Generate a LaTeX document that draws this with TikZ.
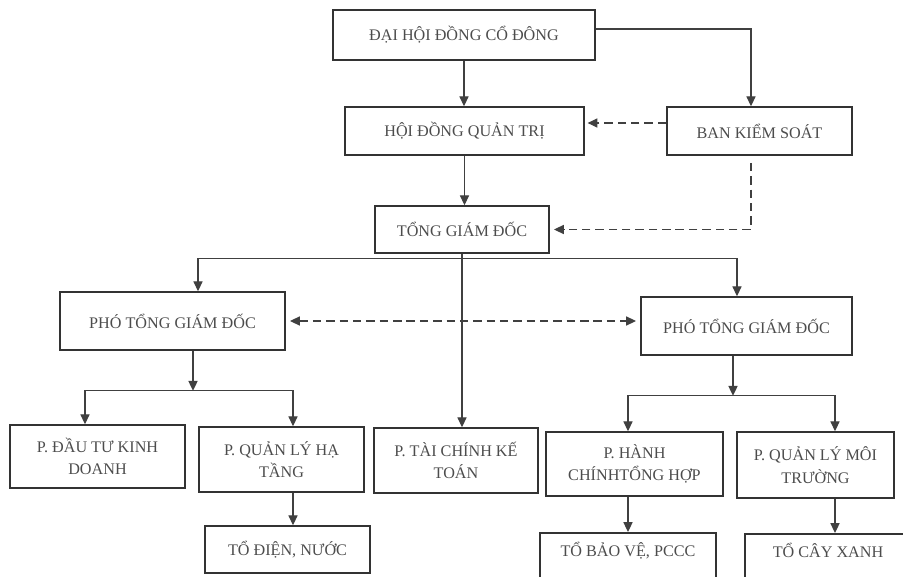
\documentclass[tikz,border=0pt]{standalone}
\usepackage{fontspec}
\setmainfont{Liberation Serif}
\usetikzlibrary{positioning, arrows.meta}

\begin{document}
\begin{tikzpicture}[
    x=0.025cm, y=-0.025cm,
    box/.style={rectangle, draw=black!80, line width=1.1pt, align=center, text=black!70, font=\fontsize{11.5}{16}\selectfont, inner sep=2pt},
    cutbox/.style={box, text height=15pt, text depth=32pt, anchor=north},
    link/.style={draw=black!75, line width=0.85pt},
    arr/.style={link, -{Triangle[length=7pt,width=6.5pt]}},
    dasharr/.style={arr, dash pattern=on 6pt off 3.5pt}
]

% frame of the page
\useasboundingbox (0,0) rectangle (903,577);
\clip (0,0) rectangle (903,577);

% Top levels
\node[box, minimum width=6.55cm, minimum height=1.25cm] (dhdcd) at (464,35) {ĐẠI HỘI ĐỒNG CỔ ĐÔNG};
\node[box, minimum width=5.975cm, minimum height=1.2cm] (hdqt) at (464.5,131) {HỘI ĐỒNG QUẢN TRỊ};
\node[box, minimum width=4.625cm, minimum height=1.2cm] (bks) at (759.5,131) {BAN KIỂM SOÁT};
\node[box, minimum width=4.35cm, minimum height=1.175cm] (tgd) at (462,229.5) {TỔNG GIÁM ĐỐC};

% Deputies
\node[box, minimum width=5.625cm, minimum height=1.45cm] (ptgd1) at (172.5,321) {PHÓ TỔNG GIÁM ĐỐC};
\node[box, minimum width=5.275cm, minimum height=1.45cm] (ptgd2) at (746.5,326) {PHÓ TỔNG GIÁM ĐỐC};

% Departments
\node[box, minimum width=4.375cm, minimum height=1.575cm] (pdt) at (97.5,456.5) {P. ĐẦU TƯ KINH\\DOANH};
\node[box, minimum width=4.125cm, minimum height=1.625cm] (pqlht) at (281.5,459.5) {P. QUẢN LÝ HẠ\\TẦNG};
\node[box, minimum width=4.1cm, minimum height=1.625cm] (ptckt) at (456,460.5) {P. TÀI CHÍNH KẾ\\TOÁN};
\node[box, minimum width=4.425cm, minimum height=1.6cm] (phc) at (634.5,464) {P. HÀNH\\CHÍNHTỔNG HỢP};
\node[box, minimum width=3.925cm, minimum height=1.65cm] (pqlmt) at (815.5,465) {P. QUẢN LÝ MÔI\\TRƯỜNG};

% Teams
\node[box, minimum width=4.125cm, minimum height=1.175cm] (todn) at (287.5,549.5) {TỔ ĐIỆN, NƯỚC};
\node[cutbox, minimum width=4.4cm] (tobv) at (628,532) {TỔ BẢO VỆ, PCCC};
\node[cutbox, minimum width=4.15cm] (tocx) at (828,533) {TỔ CÂY XANH};

% Connectors, top part
\draw[arr] (dhdcd.south) -- (dhdcd.south |- hdqt.north);
\draw[arr] ([yshift=0.15cm]dhdcd.east) -| ([xshift=-0.2125cm]bks.north);
\draw[dasharr, shorten >=2pt] ([yshift=0.2cm]bks.west) -- ([yshift=0.2cm]bks.west -| hdqt.east);
\draw[arr] (hdqt.south) -- (hdqt.south |- tgd.north);
\draw[dasharr, shorten >=3pt] ([xshift=-0.2125cm, yshift=-0.18cm]bks.south) |- (tgd.east);

% Connectors from the director
\coordinate (split) at ([yshift=-0.11cm]tgd.south);
\draw[link] (tgd.south) -- (split);
\draw[arr] (split) -| ([xshift=0.6375cm]ptgd1.north);
\draw[arr] (split) -| ([xshift=-0.2375cm]ptgd2.north);
\draw[arr] (tgd.south) -- (tgd.south |- ptckt.north);
\draw[dasharr, {Triangle[length=7pt,width=6.5pt]}-{Triangle[length=7pt,width=6.5pt]}, shorten <=3pt, shorten >=3pt] (ptgd1.east) -- (ptgd1.east -| ptgd2.west);

% Left deputy
\coordinate (split1) at ([xshift=0.5125cm, yshift=-1cm]ptgd1.south);
\draw[arr] ([xshift=0.5125cm]ptgd1.south) -- (split1);
\draw[arr] (split1) -| ([xshift=-0.3125cm]pdt.north);
\draw[arr] (split1) -| ([xshift=0.2875cm]pqlht.north);
\draw[arr] ([xshift=0.2875cm]pqlht.south) -- ([xshift=0.2875cm]pqlht.south |- todn.north);

% Right deputy
\coordinate (split2) at ([xshift=-0.3375cm, yshift=-1cm]ptgd2.south);
\draw[arr] ([xshift=-0.3375cm]ptgd2.south) -- (split2);
\draw[arr] (split2) -| ([xshift=-0.1625cm]phc.north);
\draw[arr] (split2) -| ([xshift=0.4875cm]pqlmt.north);
\draw[arr] ([xshift=-0.1625cm]phc.south) -- ([xshift=-0.1625cm]phc.south |- tobv.north);
\draw[arr] ([xshift=0.4875cm]pqlmt.south) -- ([xshift=0.4875cm]pqlmt.south |- tocx.north);

\end{tikzpicture}
\end{document}
